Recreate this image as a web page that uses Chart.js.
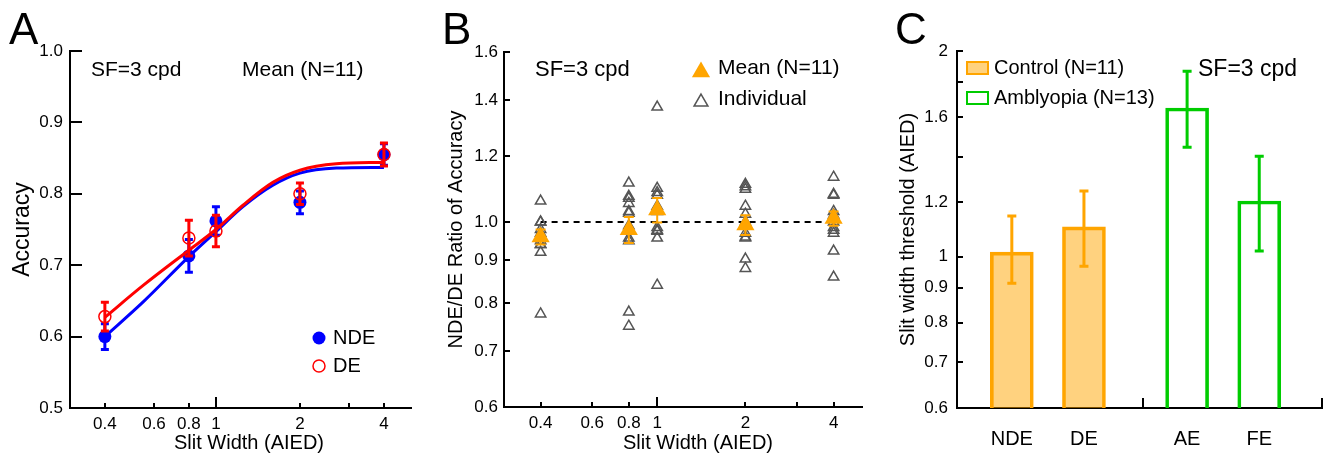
<!DOCTYPE html>
<html>
<head>
<meta charset="utf-8">
<script src="https://cdn.jsdelivr.net/npm/chart.js@4/dist/chart.umd.min.js"></script>
<style>
  body { margin: 0; background: #fff; width: 1323px; height: 456px; overflow: hidden; position: relative; }
  canvas { position: absolute; top: 0; }
</style>
</head>
<body>
<canvas id="chartA" width="440" height="456" style="left:0"></canvas>
<canvas id="chartB" width="440" height="456" style="left:440px"></canvas>
<canvas id="chartC" width="443" height="456" style="left:880px"></canvas>
<script>
const FONT = "'Liberation Sans', Arial, Helvetica, sans-serif";
Chart.defaults.font.family = FONT;
Chart.defaults.color = "#000";

// ---- panel A: accuracy vs slit width
const slitWidths = [0.4, 0.8, 1, 2, 4];
const ndeAcc = [0.600, 0.713, 0.762, 0.788, 0.855];
const ndeErr = [0.018, 0.023, 0.020, 0.016, 0.015];
const deAcc = [0.628, 0.738, 0.748, 0.800, 0.855];
const deErr = [0.020, 0.025, 0.022, 0.015, 0.016];
// fitted curves
const fitWidths = [0.4, 0.55, 0.8, 1, 1.25, 1.6, 2, 2.7, 4];
const ndeFit = [0.600, 0.649, 0.712, 0.747, 0.782, 0.812, 0.829, 0.836, 0.837];
const deFit = [0.627, 0.672, 0.721, 0.750, 0.784, 0.816, 0.833, 0.842, 0.844];
const widthTicks = [0.4, 0.6, 0.8, 1, 2, 3, 4];
const widthTickLabels = ["0.4", "0.6", "0.8", "1", "2", "", "4"];
const accTicks = [0.5, 0.6, 0.7, 0.8, 0.9, 1.0];

// ---- panel B: NDE/DE ratio
const meanRatio = [0.960, 0.979, 1.034, 0.992, 1.010];
const meanRatioErr = [0.020, 0.035, 0.035, 0.027, 0.020];
const ratio04 = [1.06, 1.00, 1.00, 0.98, 0.97, 0.96, 0.95, 0.94, 0.94, 0.92, 0.776];
const ratio08 = [1.114, 1.074, 1.068, 1.053, 1.03, 1.025, 0.99, 0.957, 0.95, 0.78, 0.75];
const ratio1 = [1.374, 1.098, 1.085, 1.077, 1.045, 1.03, 0.985, 0.978, 0.975, 0.957, 0.84];
const ratio2 = [1.11, 1.103, 1.095, 1.045, 1.022, 1.0, 0.97, 0.96, 0.957, 0.903, 0.88];
const ratio4 = [1.132, 1.08, 1.077, 1.03, 1.02, 1.0, 0.985, 0.978, 0.97, 0.923, 0.859];
const ratioTicks = [0.6, 0.7, 0.8, 0.9, 1.0, 1.2, 1.4, 1.6];

// ---- panel C: thresholds
const eyeLabels = ["NDE", "DE", "AE", "FE"];
const controlThresh = [1.015, 1.105];
const controlHigh = [1.146, 1.247];
const controlLow = [0.914, 0.968];
const amblyThresh = [1.650, 1.206];
const amblyHigh = [1.868, 1.403];
const amblyLow = [1.446, 1.019];
const threshTicks = [0.6, 0.7, 0.8, 0.9, 1, 1.2, 1.4, 1.6, 1.8, 2];
const threshTickLabels = ["0.6", "0.7", "0.8", "0.9", "1", "1.2", "", "1.6", "", "2"];

const BLUE = "#0000ff", RED = "#ff0000", ORANGE = "#ffa500", GREEN = "rgb(0,204,0)", GRAY = "#555";

// error bars drawn right after their own dataset
const errorBars = {
  id: "errorBars",
  afterDatasetDraw(chart, args) {
    const ds = chart.data.datasets[args.index];
    if (!ds.errLow) return;
    const y = chart.scales.y, ctx = chart.ctx, cap = ds.errCap || 4;
    ctx.save();
    ctx.strokeStyle = ds.errColor;
    ctx.lineWidth = ds.errWidth || 3;
    ctx.beginPath();
    args.meta.data.forEach((el, i) => {
      const x = el.x;
      const top = y.getPixelForValue(ds.errHigh[i]);
      const bot = y.getPixelForValue(ds.errLow[i]);
      ctx.moveTo(x, top); ctx.lineTo(x, bot);
      ctx.moveTo(x - cap, top); ctx.lineTo(x + cap, top);
      ctx.moveTo(x - cap, bot); ctx.lineTo(x + cap, bot);
    });
    ctx.stroke();
    ctx.restore();
  }
};

function decor(draw) {
  return { id: "decor", afterDatasetsDraw: draw };
}

function innerTicks(chart, xs, ys) {
  const { ctx, chartArea: a, scales } = chart;
  ctx.save();
  ctx.strokeStyle = "#000";
  ctx.lineWidth = 2;
  ctx.beginPath();
  xs.forEach(([v, len]) => {
    const px = Math.round(scales.x.getPixelForValue(v));
    ctx.moveTo(px, a.bottom); ctx.lineTo(px, a.bottom - len);
  });
  ys.forEach(([v, len]) => {
    const py = Math.round(scales.y.getPixelForValue(v));
    ctx.moveTo(a.left, py); ctx.lineTo(a.left + len, py);
  });
  ctx.stroke();
  ctx.restore();
}

function text(ctx, s, x, y, size, base, align) {
  ctx.save();
  ctx.fillStyle = "#000";
  ctx.font = size + "px " + FONT;
  ctx.textAlign = align || "left";
  ctx.textBaseline = base || "middle";
  ctx.fillText(s, x, y);
  ctx.restore();
}

function triangle(ctx, x, y, r) {
  let rad = 0;
  ctx.beginPath();
  ctx.moveTo(x + Math.sin(rad) * r, y - Math.cos(rad) * r);
  rad += Math.PI * 2 / 3;
  ctx.lineTo(x + Math.sin(rad) * r, y - Math.cos(rad) * r);
  rad += Math.PI * 2 / 3;
  ctx.lineTo(x + Math.sin(rad) * r, y - Math.cos(rad) * r);
  ctx.closePath();
}

function axisCommon(size) {
  return {
    grid: { display: false, drawTicks: false },
    border: { color: "#000", width: 2 },
    ticks: { autoSkip: false, maxRotation: 0, font: { size } }
  };
}

// ================= A =================
new Chart(document.getElementById("chartA"), {
  type: "scatter",
  data: {
    datasets: [
      {
        data: fitWidths.map((x, i) => ({ x, y: ndeFit[i] })),
        showLine: true, borderColor: BLUE, borderWidth: 3, pointRadius: 0,
        cubicInterpolationMode: "monotone", order: 4
      },
      {
        data: slitWidths.map((x, i) => ({ x, y: ndeAcc[i] })),
        pointRadius: 6.5, backgroundColor: BLUE, borderColor: BLUE, borderWidth: 0,
        errLow: ndeAcc.map((v, i) => v - ndeErr[i]),
        errHigh: ndeAcc.map((v, i) => v + ndeErr[i]),
        errColor: BLUE, errWidth: 3, errCap: 4, order: 3
      },
      {
        data: fitWidths.map((x, i) => ({ x, y: deFit[i] })),
        showLine: true, borderColor: RED, borderWidth: 3, pointRadius: 0,
        cubicInterpolationMode: "monotone", order: 2
      },
      {
        data: slitWidths.map((x, i) => ({ x, y: deAcc[i] })),
        pointRadius: 6, backgroundColor: "rgba(0,0,0,0)", borderColor: RED, borderWidth: 1.5,
        errLow: deAcc.map((v, i) => v - deErr[i]),
        errHigh: deAcc.map((v, i) => v + deErr[i]),
        errColor: RED, errWidth: 3, errCap: 4, order: 1
      }
    ]
  },
  options: {
    responsive: false,
    animation: false,
    layout: { padding: { top: 51, right: 29 } },
    plugins: { legend: { display: false }, tooltip: { enabled: false } },
    scales: {
      x: {
        ...axisCommon(17),
        type: "logarithmic", min: 0.3, max: 5,
        afterBuildTicks: s => { s.ticks = widthTicks.map(v => ({ value: v })); },
        afterFit: s => { s.height = 48; },
        ticks: { ...axisCommon(17).ticks, padding: 6, callback: (v, i) => widthTickLabels[i] }
      },
      y: {
        ...axisCommon(17),
        type: "linear", min: 0.5, max: 1.0,
        afterBuildTicks: s => { s.ticks = accTicks.map(v => ({ value: v })); },
        afterFit: s => { s.width = 70; },
        ticks: { ...axisCommon(17).ticks, padding: 7, callback: v => v.toFixed(1) },
        title: { display: true, text: "Accuracy", font: { size: 23 }, padding: { top: 9, bottom: 0 } }
      }
    }
  },
  plugins: [errorBars, decor(chart => {
    const ctx = chart.ctx;
    innerTicks(chart, widthTicks.map(v => [v, v === 1 ? 11 : 5]), accTicks.map(v => [v, 12]));
    text(ctx, "Slit Width (AIED)", 249, 443, 20, "middle", "center");
    text(ctx, "A", 9, 44, 44, "alphabetic");
    text(ctx, "SF=3 cpd", 91, 70, 21);
    text(ctx, "Mean (N=11)", 242, 70, 21);
    ctx.save();
    ctx.fillStyle = BLUE;
    ctx.beginPath(); ctx.arc(319, 338, 6.5, 0, Math.PI * 2); ctx.fill();
    ctx.strokeStyle = RED; ctx.lineWidth = 1.5;
    ctx.beginPath(); ctx.arc(319, 366, 6, 0, Math.PI * 2); ctx.stroke();
    ctx.restore();
    text(ctx, "NDE", 333, 338, 20);
    text(ctx, "DE", 333, 366, 20);
  })]
});

// ================= B =================
const ratioColumns = [ratio04, ratio08, ratio1, ratio2, ratio4];
new Chart(document.getElementById("chartB"), {
  type: "scatter",
  data: {
    datasets: [
      {
        data: [{ x: 0.4, y: 1 }, { x: 4.2, y: 1 }],
        showLine: true, borderColor: "#000", borderWidth: 2, borderDash: [6, 5], pointRadius: 0, order: 3
      },
      {
        data: slitWidths.flatMap((x, i) => ratioColumns[i].map(y => ({ x, y }))),
        pointStyle: "triangle", pointRadius: 6, backgroundColor: "rgba(0,0,0,0)",
        borderColor: GRAY, borderWidth: 1.5, order: 2
      },
      {
        data: slitWidths.map((x, i) => ({ x, y: meanRatio[i] })),
        pointStyle: "triangle", pointRadius: 10.5, backgroundColor: ORANGE, borderColor: ORANGE, borderWidth: 0,
        errLow: meanRatio.map((v, i) => v - meanRatioErr[i]),
        errHigh: meanRatio.map((v, i) => v + meanRatioErr[i]),
        errColor: ORANGE, errWidth: 2, errCap: 5, order: 1
      }
    ]
  },
  options: {
    responsive: false,
    animation: false,
    layout: { padding: { top: 52, right: 18 } },
    plugins: { legend: { display: false }, tooltip: { enabled: false } },
    scales: {
      x: {
        ...axisCommon(17),
        type: "logarithmic", min: 0.3, max: 5,
        afterBuildTicks: s => { s.ticks = widthTicks.map(v => ({ value: v })); },
        afterFit: s => { s.height = 49; },
        ticks: { ...axisCommon(17).ticks, padding: 6, callback: (v, i) => widthTickLabels[i] }
      },
      y: {
        ...axisCommon(17),
        type: "logarithmic", min: 0.6, max: 1.6,
        afterBuildTicks: s => { s.ticks = ratioTicks.map(v => ({ value: v })); },
        afterFit: s => { s.width = 64; },
        ticks: { ...axisCommon(17).ticks, padding: 6, callback: v => Number(v).toFixed(1) },
        title: { display: true, text: "NDE/DE Ratio of Accuracy", font: { size: 20 }, padding: { top: 4, bottom: 0 } }
      }
    }
  },
  plugins: [errorBars, decor(chart => {
    const ctx = chart.ctx;
    innerTicks(chart, widthTicks.map(v => [v, v === 1 ? 10 : 5]), ratioTicks.map(v => [v, 6]));
    text(ctx, "Slit Width (AIED)", 258, 443, 20, "middle", "center");
    text(ctx, "B", 2, 44, 44, "alphabetic");
    text(ctx, "SF=3 cpd", 95, 70, 22);
    ctx.save();
    ctx.fillStyle = ORANGE;
    triangle(ctx, 261, 72, 10.5); ctx.fill();
    ctx.strokeStyle = GRAY; ctx.lineWidth = 1.5;
    triangle(ctx, 261, 102, 8); ctx.stroke();
    ctx.restore();
    text(ctx, "Mean (N=11)", 278, 68, 21);
    text(ctx, "Individual", 278, 99, 21);
  })]
});

// ================= C =================
const groupGap = 0.43;
const groupSplit = 1.82;
const eyePos = eyeLabels.map((_, i) => i + (i > 1 ? groupGap : 0));
const xMinC = -0.76, xMaxC = 4.3;
new Chart(document.getElementById("chartC"), {
  type: "bar",
  data: {
    datasets: [
      {
        label: "Control (N=11)",
        data: controlThresh.map((y, i) => ({ x: eyePos[i], y })),
        backgroundColor: "rgba(255,165,0,0.5)", borderColor: ORANGE, borderWidth: 3,
        barThickness: 43, grouped: false,
        errLow: controlLow, errHigh: controlHigh, errColor: ORANGE, errWidth: 3, errCap: 4.5
      },
      {
        label: "Amblyopia (N=13)",
        data: amblyThresh.map((y, i) => ({ x: eyePos[i + 2], y })),
        backgroundColor: "rgba(255,255,255,0)", borderColor: GREEN, borderWidth: 3,
        barThickness: 43, grouped: false,
        errLow: amblyLow, errHigh: amblyHigh, errColor: GREEN, errWidth: 3, errCap: 4.5
      }
    ]
  },
  options: {
    responsive: false,
    animation: false,
    layout: { padding: { top: 51, right: 1 } },
    plugins: { legend: { display: false }, tooltip: { enabled: false } },
    scales: {
      x: {
        ...axisCommon(20),
        type: "linear", min: xMinC, max: xMaxC, offset: false,
        afterBuildTicks: s => { s.ticks = eyePos.map(v => ({ value: v })); },
        afterFit: s => { s.height = 48; },
        ticks: { ...axisCommon(20).ticks, padding: 19, callback: (v, i) => eyeLabels[i] }
      },
      y: {
        ...axisCommon(17),
        type: "logarithmic", min: 0.6, max: 2,
        afterBuildTicks: s => { s.ticks = threshTicks.map(v => ({ value: v })); },
        afterFit: s => { s.width = 77; },
        ticks: { ...axisCommon(17).ticks, padding: 9, callback: (v, i) => threshTickLabels[i] },
        title: { display: true, text: "Slit width threshold (AIED)", font: { size: 20 }, padding: { top: 16, bottom: 0 } }
      }
    }
  },
  plugins: [errorBars, decor(chart => {
    const ctx = chart.ctx;
    innerTicks(chart, [[groupSplit, 10], [xMaxC, 10]], threshTicks.map(v => [v, 6]));
    text(ctx, "C", 15, 44, 44, "alphabetic");
    ctx.save();
    ctx.lineWidth = 2;
    ctx.fillStyle = "rgba(255,165,0,0.5)"; ctx.strokeStyle = ORANGE;
    ctx.fillRect(87, 62, 21, 12); ctx.strokeRect(87, 62, 21, 12);
    ctx.strokeStyle = GREEN;
    ctx.strokeRect(87, 92, 21, 12);
    ctx.restore();
    text(ctx, "Control (N=11)", 114, 68, 20);
    text(ctx, "Amblyopia (N=13)", 114, 98, 20);
    text(ctx, "SF=3 cpd", 318, 70, 23);
  })]
});
</script>
</body>
</html>
